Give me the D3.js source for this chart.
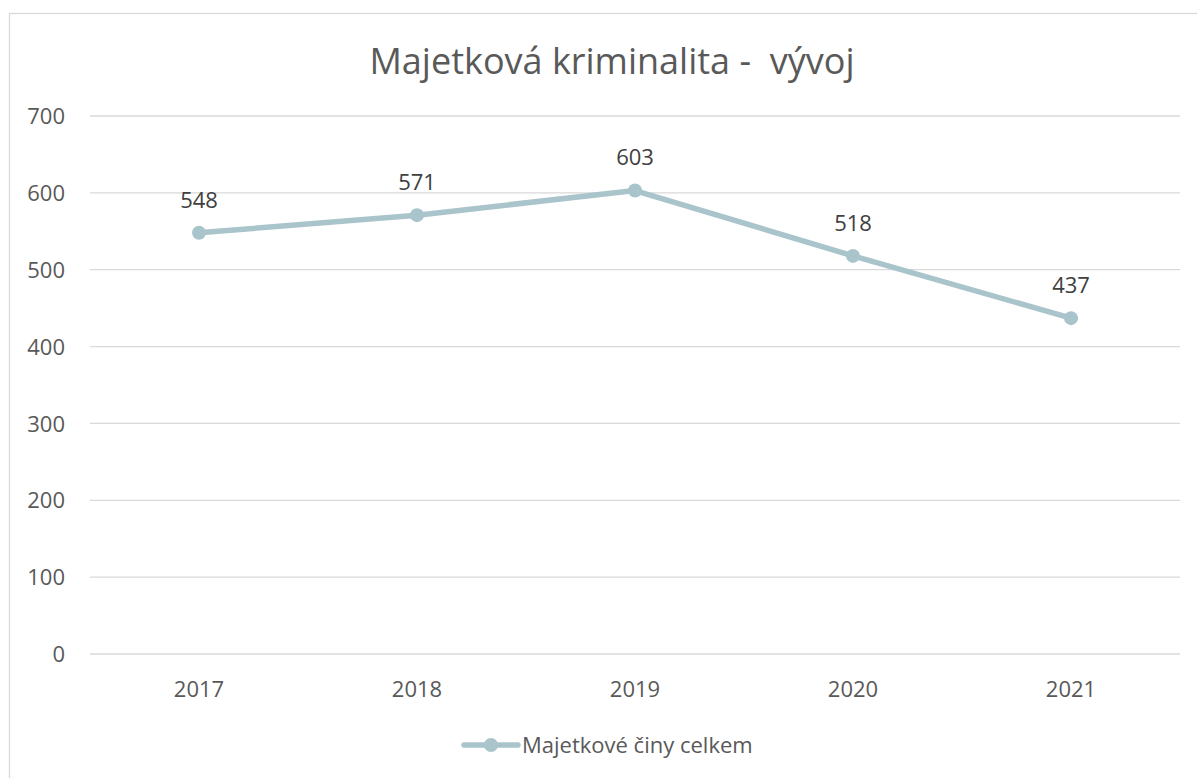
<!DOCTYPE html>
<html><head><meta charset="utf-8">
<script src="https://cdn.jsdelivr.net/npm/d3@7"></script>
<style>html,body{margin:0;padding:0;background:#fff;}svg{display:block;}text{white-space:pre;}</style>
</head><body>
<script>
const categories = ["2017","2018","2019","2020","2021"];
const values = [548, 571, 603, 518, 437];
const yTicks = [0,100,200,300,400,500,600,700];
const seriesName = "Majetkové činy celkem";
const title = "Majetková kriminalita -  vývoj";

const W = 1197, H = 778;
const font = "'Segoe UI','Open Sans','Noto Sans',sans-serif";
const fs = 22;
const svg = d3.select("body").append("svg").attr("width", W).attr("height", H);
svg.append("rect").attr("x",9.5).attr("y",13.5).attr("width",1200).attr("height",800)
  .attr("fill","#fff").attr("stroke","#d9d9d9").attr("stroke-width",1.3);

const x = d3.scaleBand().domain(categories).range([90,1180]);
const y = d3.scaleLinear().domain([0,700]).range([654,116]);

svg.append("text").attr("x",612).attr("y",74).attr("text-anchor","middle")
  .attr("xml:space","preserve")
  .attr("font-family",font).attr("font-size",36).attr("fill","#595959").text(title);

const grid = svg.append("g");
grid.selectAll("line").data(yTicks).join("line")
  .attr("x1",90).attr("x2",1180).attr("y1",d=>y(d)).attr("y2",d=>y(d))
  .attr("stroke","#d9d9d9").attr("stroke-width",1.3);

const yAxis = d3.axisLeft(y).tickValues(yTicks).tickSize(0).tickPadding(0);
const ga = svg.append("g").attr("transform","translate(65,0)").call(yAxis);
ga.select(".domain").remove();
ga.selectAll("text").attr("font-family",font).attr("font-size",fs).attr("fill","#595959").attr("dy","0.35em");

const xAxis = d3.axisBottom(x).tickSize(0).tickPadding(0);
const gx = svg.append("g").attr("transform","translate(0,689)").call(xAxis);
gx.select(".domain").remove();
gx.selectAll("text").attr("font-family",font).attr("font-size",fs).attr("fill","#595959").attr("dy","0.35em");

const col = "#a9c4cb";
const cx = d => x(d) + x.bandwidth()/2;
const data = categories.map((c,i)=>({c, v: values[i]}));
svg.append("path").datum(data)
  .attr("d", d3.line().x(d=>cx(d.c)).y(d=>y(d.v)))
  .attr("fill","none").attr("stroke",col).attr("stroke-width",5.5).attr("stroke-linejoin","round").attr("stroke-linecap","round");
svg.selectAll("circle.pt").data(data).join("circle").attr("class","pt")
  .attr("cx",d=>cx(d.c)).attr("cy",d=>y(d.v)).attr("r",7).attr("fill",col);
svg.selectAll("text.lbl").data(data).join("text").attr("class","lbl")
  .attr("x",d=>cx(d.c)).attr("y",d=>y(d.v)-33).attr("dy","0.35em").attr("text-anchor","middle")
  .attr("font-family",font).attr("font-size",fs).attr("fill","#404040").text(d=>d.v);

const lg = svg.append("g");
lg.append("line").attr("x1",464).attr("x2",518).attr("y1",745).attr("y2",745)
  .attr("stroke",col).attr("stroke-width",5.5).attr("stroke-linecap","round");
lg.append("circle").attr("cx",491).attr("cy",745).attr("r",7).attr("fill",col);
lg.append("text").attr("x",522).attr("y",745).attr("dy","0.35em")
  .attr("font-family",font).attr("font-size",fs).attr("fill","#595959").text(seriesName);
</script>
</body></html>
